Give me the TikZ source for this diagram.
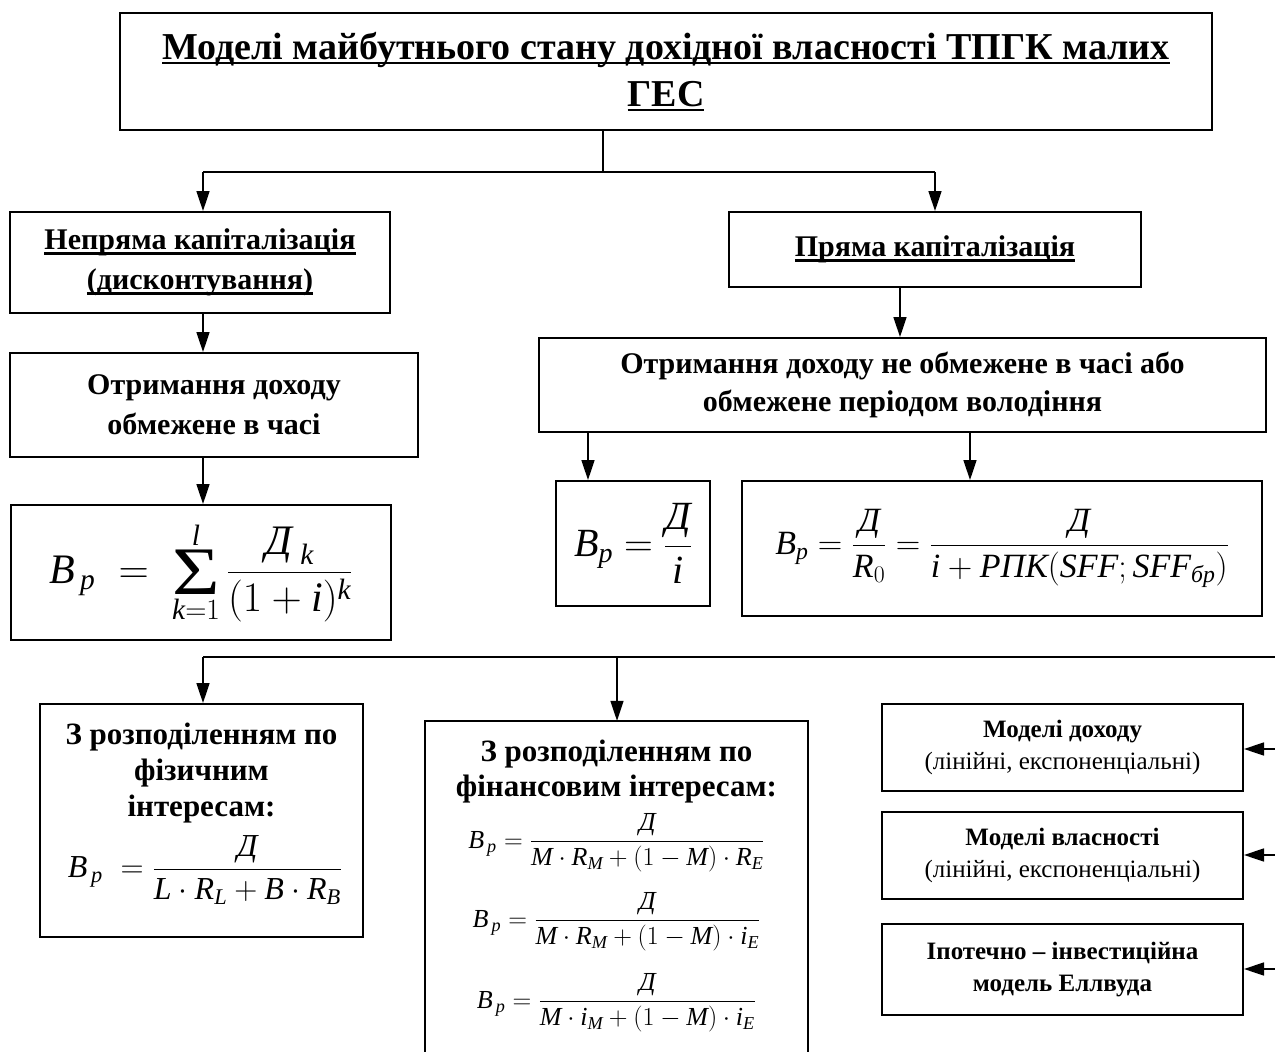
\documentclass[tikz,border=0pt]{standalone}
\usepackage{fix-cm}
\usepackage{graphicx}
\usepackage{amsmath}
\usepackage{fontspec}
\setmainfont{Liberation Serif}
\usetikzlibrary{arrows.meta}
\newcommand{\myul}[1]{\setbox0\hbox{#1}\leavevmode\rlap{\rule[-5pt]{\wd0}{2.5pt}}\box0}
\newcommand{\DD}{\text{\itshape Д}}
\newcommand{\mv}[1]{\mathit{#1}}
\newcommand{\fs}[2]{\fontsize{#1}{#2}\selectfont}
\newcommand{\bigsig}{\mathop{\vcenter{\hbox{\fs{68}{68}\scalebox{1.2}[1]{Σ}}}}\limits}
\begin{document}
\begin{tikzpicture}[x=1pt,y=-1pt,
  box/.style={draw,line width=2pt,inner sep=0pt,align=center},
  conn/.style={line width=1.6pt},
  arr/.style={line width=1.6pt,-{Triangle[length=20pt,width=13pt]}},
  plain/.style={inner sep=0pt,align=center}
]
\useasboundingbox (0,0) rectangle (1275,1052);

% boxes
\node[box,minimum width=1092,minimum height=117,font=\fs{38}{47}\bfseries] (title) at (666,71.5)
  {\myul{Моделі майбутнього стану дохідної власності ТПГК малих}\\\myul{ГЕС}};
\node[box,minimum width=380,minimum height=101,font=\fs{30}{40}\bfseries] (indirect) at (200,262.5)
  {\myul{Непряма капіталізація}\\\myul{(дисконтування)}};
\node[box,minimum width=412,minimum height=75,font=\fs{30}{40}\bfseries] (direct) at (935,249.5)
  {\myul{Пряма капіталізація}};
\node[box,minimum width=408,minimum height=104,font=\fs{30}{40}\bfseries] (limited) at (214,405)
  {Отримання доходу\\обмежене в часі};
\node[box,minimum width=727,minimum height=94,font=\fs{30}{38}\bfseries] (unlimited) at (902.5,385)
  {Отримання доходу не обмежене в часі або\\обмежене періодом володіння};
\node[box,minimum width=380,minimum height=135,font=\fs{42}{50}] (sumbox) at (201,572.5)
  {$\displaystyle \mv{B}_{\,\mv{p}}\;=\;\bigsig_{\mv{k}=1}^{\mv{l}}\frac{\DD_{\;\mv{k}}}{(1+\mv{i})^{\mv{k}}}$};
\node[box,minimum width=154,minimum height=125,font=\fs{40}{48}] (smallf) at (633,543.5)
  {$\displaystyle \mv{B}_{\mv{p}}=\frac{\DD}{\mv{i}}$};
\node[box,minimum width=520,minimum height=135,font=\fs{34}{42}] (bigf) at (1002,548.5)
  {$\displaystyle \mv{B}_{\mv{p}}=\frac{\DD}{\mv{R}_0}=\frac{\DD}{\mv{i}+\text{\itshape РПК}(\mv{SFF};\mv{SFF}_{\text{\itshape бр}})}$};

\node[box,minimum width=323,minimum height=233] (phys) at (201.5,820.5) {};
\node[plain,font=\fs{31}{36}\bfseries] (physT) at (201.5,773) {З розподіленням по\\фізичним\\інтересам:};
\node[plain,font=\fs{32}{40}] (physF) at (205,870)
  {$\displaystyle \mv{B}_{\,\mv{p}} \;= \frac{\DD}{\mv{L}\cdot\mv{R}_{\mv{L}}+\mv{B}\cdot\mv{R}_{\mv{B}}}$};

\node[inner sep=0pt,minimum width=383,minimum height=331] (fin) at (616.5,886.5) {};
\draw[line width=2pt] (fin.south west) |- (fin.north east) -- (fin.south east);
\node[plain,font=\fs{31}{35}\bfseries] (finT) at (616.5,772) {З розподіленням по\\фінансовим інтересам:};
\node[plain,font=\fs{26}{30}] (finF1) at (616.5,843)
  {$\displaystyle \mv{B}_{\,\mv{p}} = \frac{\DD}{\mv{M}\cdot\mv{R}_{\mv{M}}+(1-\mv{M})\cdot\mv{R}_{\mv{E}}}$};
\node[plain,font=\fs{26}{30}] (finF2) at (616.5,922)
  {$\displaystyle \mv{B}_{\,\mv{p}} = \frac{\DD}{\mv{M}\cdot\mv{R}_{\mv{M}}+(1-\mv{M})\cdot\mv{i}_{\mv{E}}}$};
\node[plain,font=\fs{26}{30}] (finF3) at (616.5,1003)
  {$\displaystyle \mv{B}_{\,\mv{p}} = \frac{\DD}{\mv{M}\cdot\mv{i}_{\mv{M}}+(1-\mv{M})\cdot\mv{i}_{\mv{E}}}$};

\node[box,minimum width=361,minimum height=87,font=\fs{25}{32}] (r1) at (1062.5,747.5)
  {\textbf{Моделі доходу}\\(лінійні, експоненціальні)};
\node[box,minimum width=361,minimum height=87,font=\fs{25}{32}] (r2) at (1062.5,855.5)
  {\textbf{Моделі власності}\\(лінійні, експоненціальні)};
\node[box,minimum width=361,minimum height=91,font=\fs{25}{32}\bfseries] (r3) at (1062.5,969.5)
  {Іпотечно – інвестиційна\\модель Еллвуда};

% helper coordinates
\coordinate (xm) at (603,0);
\coordinate (xa) at (203,0);
\coordinate (xb) at (900,0);
\coordinate (xc) at (588,0);
\coordinate (xd) at (970,0);
\coordinate (xe) at (617,0);
\coordinate (bl) at (203,172);
\coordinate (br) at (935,172);
\coordinate (b2l) at (203,657);
\coordinate (b2r) at (1275,657);
\coordinate (e1) at (1275,749);
\coordinate (e2) at (1275,855);
\coordinate (e3) at (1275,969);

% connectors
\draw[conn] (title.south -| xm) -- (bl -| xm);
\draw[conn] (bl) -- (br);
\draw[arr] (bl) -- (indirect.north -| bl);
\draw[arr] (br) -- (direct.north -| br);
\draw[arr] (indirect.south -| xa) -- (limited.north -| xa);
\draw[arr] (limited.south -| xa) -- (sumbox.north -| xa);
\draw[arr] (direct.south -| xb) -- (unlimited.north -| xb);
\draw[arr] (unlimited.south -| xc) -- (smallf.north -| xc);
\draw[arr] (unlimited.south -| xd) -- (bigf.north -| xd);
\draw[conn] (b2l) -- (b2r);
\draw[arr] (b2l) -- (phys.north -| b2l);
\draw[arr] (b2l -| xe) -- (fin.north -| xe);
\draw[arr] (e1) -- (r1.east |- e1);
\draw[arr] (e2) -- (r2.east |- e2);
\draw[arr] (e3) -- (r3.east |- e3);
\end{tikzpicture}
\end{document}
